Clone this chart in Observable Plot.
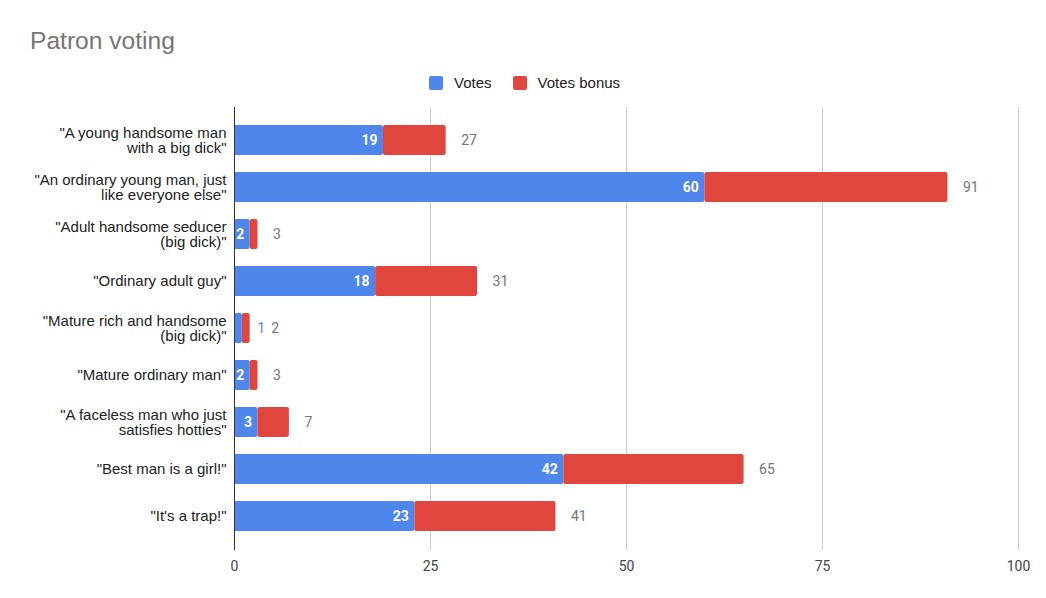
<!DOCTYPE html>
<html>
<head>
<meta charset="utf-8">
<script src="https://cdn.jsdelivr.net/npm/d3@7"></script>
<script src="https://cdn.jsdelivr.net/npm/@observablehq/plot@0.6"></script>
<style>
  body { margin: 0; background: #fff; font-family: "Liberation Sans", Arial, sans-serif; }
  #wrap { position: relative; width: 1046px; height: 598px; overflow: hidden; }
  #title { position: absolute; left: 30px; top: 29px; font-size: 24.6px; color: #757575; line-height: 1; }
  #legend { position: absolute; left: 429px; top: 74px; font-size: 15px; color: #222; display: flex; align-items: center; }
  .sw { display: inline-block; width: 14px; height: 14px; border-radius: 2px; margin-right: 11px; }
  .item { display: flex; align-items: center; margin-right: 21px; }
  #chart { position: absolute; left: 0; top: 0; }
</style>
</head>
<body>
<div id="wrap">
  <div id="chart"></div>
  <div id="title">Patron voting</div>
  <div id="legend"></div>
</div>
<script>
const categories = [
  "\"A young handsome man\nwith a big dick\"",
  "\"An ordinary young man, just\nlike everyone else\"",
  "\"Adult handsome seducer\n(big dick)\"",
  "\"Ordinary adult guy\"",
  "\"Mature rich and handsome\n(big dick)\"",
  "\"Mature ordinary man\"",
  "\"A faceless man who just\nsatisfies hotties\"",
  "\"Best man is a girl!\"",
  "\"It's a trap!\""
];
const votes = [19, 60, 2, 18, 1, 2, 3, 42, 23];
const votesBonus = [8, 31, 1, 13, 1, 1, 4, 23, 18];
const seriesNames = ["Votes", "Votes bonus"];
const colors = ["#4f86ec", "#e1463e"];
const xTicks = [0, 25, 50, 75, 100];

const rows = [];
categories.forEach((c, i) => {
  rows.push({cat: c, series: seriesNames[0], value: votes[i], order: 0});
  rows.push({cat: c, series: seriesNames[1], value: votesBonus[i], order: 1});
});
const totals = categories.map((c, i) => ({cat: c, votes: votes[i], total: votes[i] + votesBonus[i]}));

const num = "Roboto, Arial, sans-serif";
const chart = Plot.plot({
  width: 1046,
  height: 598,
  marginLeft: 234,
  marginRight: 28,
  marginTop: 107,
  marginBottom: 48,
  style: {fontFamily: "'Liberation Sans', Arial, sans-serif", background: "transparent"},
  x: {domain: [0, 100], ticks: xTicks, label: null},
  y: {domain: categories, padding: 0.36, label: null},
  color: {domain: seriesNames, range: colors},
  marks: [
    Plot.gridX(xTicks.filter(d => d > 0), {stroke: "#cccccc", strokeOpacity: 1}),
    Plot.axisX({ticks: xTicks, tickSize: 0, tickPadding: 11, fontSize: 14, fontFamily: num, color: "#444", label: null}),
    Plot.axisY({tickSize: 0, tickPadding: 8, fontSize: 15, lineHeight: 1.03, color: "#222", label: null}),
    Plot.barX(rows, Plot.stackX({x: "value", y: "cat", fill: "series", order: "order", rx: 2})),
    Plot.text(totals.filter(d => d.votes >= 2), {
      x: "votes", y: "cat", text: d => String(d.votes), textAnchor: "end", dx: -6,
      fill: "white", fontWeight: "bold", fontSize: 14, fontFamily: num
    }),
    Plot.text(totals.filter(d => d.votes < 2), {
      x: "total", y: "cat", text: d => String(d.votes), textAnchor: "start", dx: 7,
      fill: colors[0], fontSize: 14, fontFamily: num
    }),
    Plot.text(totals.filter(d => d.votes >= 2), {
      x: "total", y: "cat", text: d => String(d.total), textAnchor: "start", dx: 15,
      fill: "#757575", fontSize: 14, fontFamily: num
    }),
    Plot.text(totals.filter(d => d.votes < 2), {
      x: "total", y: "cat", text: d => String(d.total), textAnchor: "start", dx: 21,
      fill: "#757575", fontSize: 14, fontFamily: num
    }),
    Plot.ruleX([0], {stroke: "#333", strokeWidth: 1})
  ]
});
document.getElementById("chart").appendChild(chart);

const legend = document.getElementById("legend");
seriesNames.forEach((s, i) => {
  const item = document.createElement("div");
  item.className = "item";
  item.innerHTML = `<span class="sw" style="background:${colors[i]}"></span><span>${s}</span>`;
  legend.appendChild(item);
});
</script>
</body>
</html>
